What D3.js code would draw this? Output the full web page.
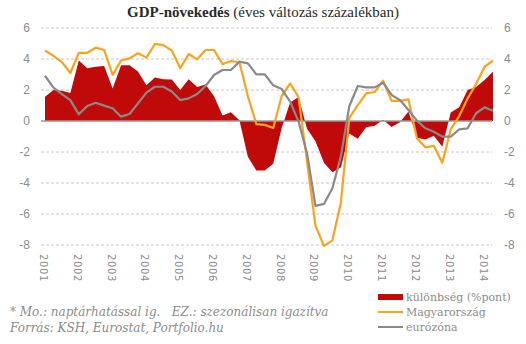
<!DOCTYPE html>
<html>
<head>
<meta charset="utf-8">
<script src="https://cdnjs.cloudflare.com/ajax/libs/d3/7.8.5/d3.min.js"></script>
<style>
  body { margin: 0; background: #fff; }
  svg { display: block; }
</style>
</head>
<body>
<div id="chart"></div>
<script>
"use strict";

// years shown on the x axis, data is quarterly from 2001 Q1 to 2014 Q2
var years = [2001, 2002, 2003, 2004, 2005, 2006, 2007, 2008, 2009, 2010, 2011, 2012, 2013, 2014];
var yTicks = [-8, -6, -4, -2, 0, 2, 4, 6];

var quarters = [];
years.forEach(function(y){
    [1, 2, 3, 4].forEach(function(q){
        if (y == 2014 && q > 2) return;
        quarters.push(y + "Q" + q);
    });
});

// különbség (%pont)
var diff = [1.57, 2.0, 1.95, 1.8, 3.9, 3.4, 3.5, 3.55, 2.1, 3.6,
            3.6, 3.2, 2.3, 2.8, 2.7, 2.68, 2.0, 2.7, 2.2, 2.35,
            1.6, 0.35, 0.56, 0.05, -2.3, -3.2, -3.2, -2.75, -0.45, 1.2,
            1.55, -0.5, -1.3, -2.7, -3.3, -3.0, -0.8, -1.15, -0.4, -0.3,
            0.08, -0.38, -0.08, 0.62, -1.08, -1.2, -0.95, -1.66, 0.55, 0.88,
            2.0, 2.2, 2.65, 3.18];

// Magyarország
var hungary = [4.55, 4.2, 3.8, 3.1, 4.4, 4.4, 4.73, 4.58, 2.97, 3.9,
               4.04, 4.37, 4.09, 4.97, 4.9, 4.54, 3.4, 4.32, 3.98, 4.58,
               4.58, 3.66, 3.87, 3.79, 1.6, -0.2, -0.25, -0.45, 1.6, 2.43,
               1.53, -2.6, -6.77, -8.06, -7.7, -5.27, 0.2, 1.03, 1.78, 1.87,
               2.6, 1.3, 1.3, 1.4, -1.12, -1.7, -1.6, -2.69, -0.54, 0.32,
               1.46, 2.39, 3.5, 3.89];

// eurózóna
var eurozone = [2.92, 2.15, 1.74, 1.35, 0.43, 0.97, 1.18, 0.99, 0.82, 0.28,
                0.45, 1.14, 1.83, 2.21, 2.21, 1.9, 1.35, 1.46, 1.74, 2.26,
                2.97, 3.29, 3.29, 3.83, 3.72, 3.01, 3.01, 2.3, 2.06, 1.25,
                -0.04, -2.08, -5.48, -5.35, -4.34, -2.3, 0.95, 2.26, 2.17, 2.17,
                2.47, 1.68, 1.35, 0.71, 0.02, -0.47, -0.69, -1.01, -1.01, -0.54,
                -0.47, 0.5, 0.88, 0.66];

var width = 526, height = 344;
var red = "#c00a0a", orange = "#fca21e", grey = "#8a8a8a";

var svg = d3.select("#chart").append("svg")
    .attr("width", width)
    .attr("height", height);

var xScale = d3.scalePoint()
    .domain(quarters)
    .range([45, 493]);

var yScale = d3.scaleLinear()
    .domain([-8, 6])
    .range([245, 28]);

// title
var title = svg.append("text")
    .attr("x", 263)
    .attr("y", 17)
    .attr("text-anchor", "middle")
    .style("font-family", "'Liberation Serif', serif")
    .style("font-size", "15px")
    .style("fill", "#2a2a2a");
title.append("tspan").style("font-weight", "bold").text("GDP-növekedés");
title.append("tspan").text(" (éves változás százalékban)");

// gridlines
svg.append("g")
    .selectAll("line")
    .data(yTicks.filter(function(d){ return d != 0; }))
    .enter()
    .append("line")
    .attr("x1", 41)
    .attr("x2", 492)
    .attr("y1", function(d){ return yScale(d); })
    .attr("y2", function(d){ return yScale(d); })
    .style("stroke", "#c8c8c8")
    .style("stroke-width", 1)
    .style("stroke-dasharray", "3,2");

// left and right axes (labels only)
var leftAxis = d3.axisLeft(yScale).tickValues(yTicks).tickSize(0).tickPadding(0);
var rightAxis = d3.axisRight(yScale).tickValues(yTicks).tickSize(0).tickPadding(0);

svg.append("g")
    .attr("class", "y axis")
    .attr("transform", "translate(30,0)")
    .call(leftAxis);
svg.append("g")
    .attr("class", "y axis")
    .attr("transform", "translate(504,0)")
    .call(rightAxis);

svg.selectAll(".y.axis .domain").remove();
svg.selectAll(".y.axis text")
    .style("font-family", "'Liberation Sans', sans-serif")
    .style("font-size", "12px")
    .style("fill", "#8c8c8c")
    .text(function(d){ return d < 0 ? "-" + Math.abs(d) : d; });

// difference area
var area = d3.area()
    .x(function(d, i){ return xScale(quarters[i]); })
    .y0(yScale(0))
    .y1(function(d){ return yScale(d); });

svg.append("path")
    .datum(diff)
    .attr("d", area)
    .style("fill", red);

// zero line
svg.append("line")
    .attr("x1", 41)
    .attr("x2", 492)
    .attr("y1", yScale(0))
    .attr("y2", yScale(0))
    .style("stroke", "#999")
    .style("stroke-width", 1.5);

var line = d3.line()
    .x(function(d, i){ return xScale(quarters[i]); })
    .y(function(d){ return yScale(d); });

svg.append("path")
    .datum(hungary)
    .attr("d", line)
    .style("fill", "none")
    .style("stroke", orange)
    .style("stroke-width", 2.2)
    .style("stroke-linejoin", "round");

svg.append("path")
    .datum(eurozone)
    .attr("d", line)
    .style("fill", "none")
    .style("stroke", grey)
    .style("stroke-width", 2.2)
    .style("stroke-linejoin", "round");

// year labels, rotated
svg.append("g")
    .selectAll("text")
    .data(years)
    .enter()
    .append("text")
    .attr("transform", function(d){
        return "translate(" + (xScale(d + "Q1") - 1.5) + ",254) rotate(90)";
    })
    .attr("dominant-baseline", "central")
    .style("font-family", "'DejaVu Sans', sans-serif")
    .style("font-size", "10px")
    .style("letter-spacing", "0.6px")
    .style("fill", "#8c8c8c")
    .text(function(d){ return d; });

// footnote
var notes = ["* Mo.: naptárhatással ig.   EZ.: szezonálisan igazítva",
             "Forrás: KSH, Eurostat, Portfolio.hu"];
svg.append("g")
    .selectAll("text")
    .data(notes)
    .enter()
    .append("text")
    .attr("x", 10)
    .attr("y", function(d, i){ return 316 + i * 16; })
    .attr("xml:space", "preserve")
    .style("font-family", "'DejaVu Serif', serif")
    .style("font-style", "italic")
    .style("font-size", "12px")
    .style("fill", "#8c8c8c")
    .text(function(d){ return d; });

// legend
var legend = [
    {name: "különbség (%pont)", color: red, h: 6},
    {name: "Magyarország", color: orange, h: 2},
    {name: "eurózóna", color: grey, h: 2}
];
var lg = svg.append("g")
    .selectAll("g")
    .data(legend)
    .enter()
    .append("g")
    .attr("transform", function(d, i){ return "translate(378," + (297 + i * 15) + ")"; });
lg.append("rect")
    .attr("x", 0)
    .attr("y", function(d){ return -d.h / 2; })
    .attr("width", 25)
    .attr("height", function(d){ return d.h; })
    .style("fill", function(d){ return d.color; });
lg.append("text")
    .attr("x", 28)
    .attr("y", 0)
    .attr("dominant-baseline", "central")
    .style("font-family", "'DejaVu Serif', serif")
    .style("font-size", "11px")
    .style("fill", "#8c8c8c")
    .text(function(d){ return d.name; });
</script>
</body>
</html>
